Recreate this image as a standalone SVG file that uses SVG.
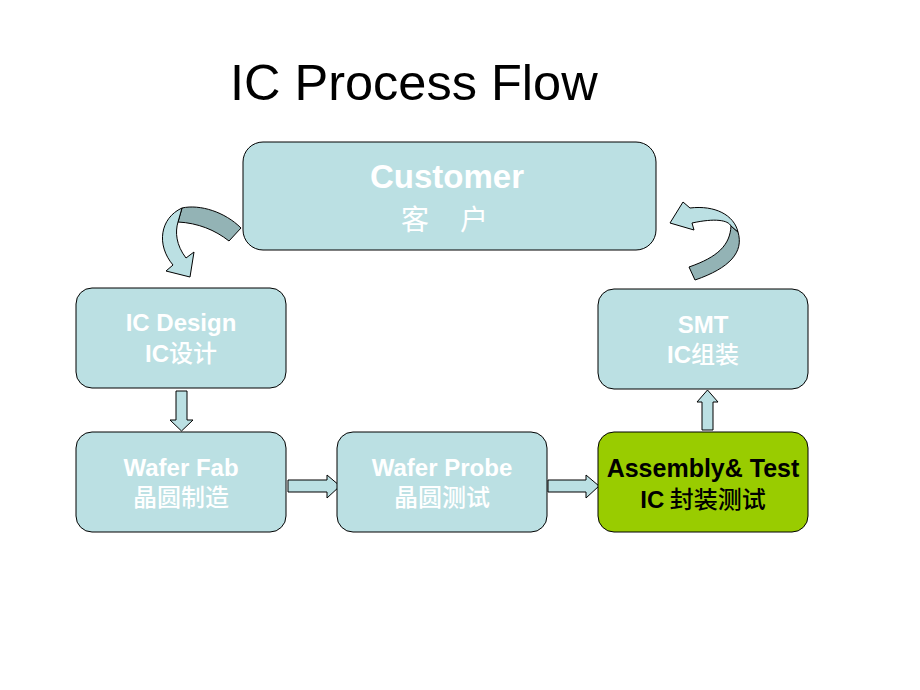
<svg xmlns="http://www.w3.org/2000/svg" width="920" height="690" viewBox="0 0 920 690">
<style>
.box{fill:#BBE0E3;stroke:#000;stroke-width:1}
.green{fill:#99CC00;stroke:#000;stroke-width:1}
.en{font-family:"Liberation Sans",Arial,sans-serif;font-weight:bold;font-size:24px;text-anchor:middle}
.cn{font-family:"Noto Sans CJK SC",sans-serif;font-weight:500;font-size:24px;text-anchor:middle}
.ic{font-family:"Liberation Sans",Arial,sans-serif;font-weight:bold}
.w{fill:#fff}
.k{fill:#000}
.arr{fill:#BBE0E3;stroke:#000;stroke-width:1;stroke-linejoin:miter}
.dark{fill:#93B3B5;stroke:#000;stroke-width:1}
</style>
<rect width="920" height="690" fill="#fff"/>
<text x="230" y="100" font-family="'Liberation Sans',Arial,sans-serif" font-size="50.5" fill="#000">IC Process Flow</text>

<g id="connectors">
  <!-- left curved arrow -->
  <path class="dark" d="M182,208 C200,204 225,212 241,228 L229,241 C215,230 198,223 178,222 Z"/>
  <path class="arr" d="M182,208 C160,218 156,245 173,265 L166,271 L190,277 L194,252 L186,258 C176,245 175,232 178,222 Z"/>
  <!-- right curved arrow -->
  <path class="dark" d="M738,232 C744,252 730,268 695,280 L689,267 C718,257 730,245 731,226 Z"/>
  <path class="arr" d="M738,232 C734,215 715,205 690,208 L683,202 L670,223 L694,230 L692,223 C715,218 728,220 731,226 Z"/>
  <!-- down arrow -->
  <path class="arr" d="M176,391 L187,391 L187,420 L193,420 L181.5,431 L170,420 L176,420 Z"/>
  <!-- right arrows -->
  <path class="arr" d="M288,480 L327,480 L327,475 L340,486 L327,498 L327,492 L288,492 Z"/>
  <path class="arr" d="M548,480 L586,480 L586,475 L599,486 L586,498 L586,492 L548,492 Z"/>
  <!-- up arrow -->
  <path class="arr" d="M702,430 L702,402 L697,402 L707.5,390 L718,402 L713,402 L713,430 Z"/>
</g>

<g id="customer">
  <rect class="box" x="243" y="142" width="413" height="108" rx="20"/>
  <text class="en w" x="447" y="188" style="font-size:33px">Customer</text>
  <text class="cn w" x="415" y="230" style="font-size:28px;font-weight:normal">客</text>
  <text class="cn w" x="474" y="230" style="font-size:28px;font-weight:normal">户</text>
</g>
<g id="ic-design">
  <rect class="box" x="76" y="288" width="210" height="100" rx="16"/>
  <text class="en w" x="181" y="331">IC Design</text>
  <text class="cn w" x="181" y="362"><tspan class="ic">IC</tspan>设计</text>
</g>
<g id="smt">
  <rect class="box" x="598" y="289" width="210" height="100" rx="16"/>
  <text class="en w" x="703" y="333">SMT</text>
  <text class="cn w" x="703" y="363"><tspan class="ic">IC</tspan>组装</text>
</g>
<g id="wafer-fab">
  <rect class="box" x="76" y="432" width="210" height="100" rx="16"/>
  <text class="en w" x="181" y="476">Wafer Fab</text>
  <text class="cn w" x="181" y="506">晶圆制造</text>
</g>
<g id="wafer-probe">
  <rect class="box" x="337" y="432" width="210" height="100" rx="16"/>
  <text class="en w" x="442" y="476">Wafer Probe</text>
  <text class="cn w" x="442" y="506">晶圆测试</text>
</g>
<g id="assembly-test">
  <rect class="green" x="598" y="432" width="210" height="100" rx="16"/>
  <text class="en k" x="703" y="477" style="font-size:25px">Assembly&amp; Test</text>
  <text class="cn k" x="703" y="508"><tspan class="ic">IC</tspan> 封装测试</text>
</g>
</svg>
